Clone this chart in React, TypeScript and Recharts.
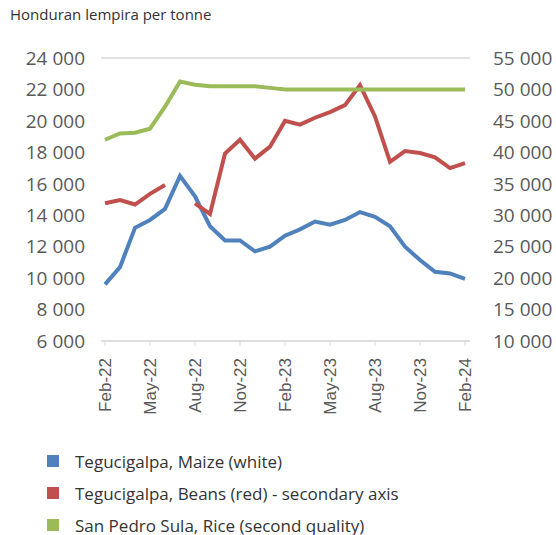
import { CartesianGrid, Line, LineChart, XAxis, YAxis } from 'recharts';
import type { ReactElement } from 'react';

const months = [
  'Feb-22', 'Mar-22', 'Apr-22', 'May-22', 'Jun-22', 'Jul-22', 'Aug-22', 'Sep-22', 'Oct-22',
  'Nov-22', 'Dec-22', 'Jan-23', 'Feb-23', 'Mar-23', 'Apr-23', 'May-23', 'Jun-23', 'Jul-23',
  'Aug-23', 'Sep-23', 'Oct-23', 'Nov-23', 'Dec-23', 'Jan-24', 'Feb-24',
];

const maize = [
  9600, 10700, 13200, 13700, 14400, 16500, 15200, 13300, 12400, 12400, 11700, 12000, 12700,
  13100, 13600, 13400, 13700, 14200, 13900, 13300, 12000, 11150, 10400, 10300, 9950,
];

const beans: (number | null)[] = [
  31900, 32400, 31700, 33400, 34800, null, 31900, 30200, 39800, 42000, 39000, 40900, 45000,
  44400, 45500, 46400, 47500, 50700, 45700, 38500, 40200, 39900, 39200, 37500, 38300,
];

const rice = [
  18800, 19200, 19250, 19500, 20900, 22500, 22300, 22200, 22200, 22200, 22200, 22100, 22000,
  22000, 22000, 22000, 22000, 22000, 22000, 22000, 22000, 22000, 22000, 22000, 22000,
];

const leftTicks = [6000, 8000, 10000, 12000, 14000, 16000, 18000, 20000, 22000, 24000];
const rightTicks = [10000, 15000, 20000, 25000, 30000, 35000, 40000, 45000, 50000, 55000];

const seriesNames = [
  'Tegucigalpa, Maize (white)',
  'Tegucigalpa, Beans (red) - secondary axis',
  'San Pedro Sula, Rice (second quality)',
];
const seriesColors = ['#4F81BD', '#C0504D', '#9BBB59'];

const data = months.map((m, i) => ({ month: m, maize: maize[i], beans: beans[i], rice: rice[i] }));

const fmt = (v: number) => String(v).replace(/\B(?=(\d{3})+(?!\d))/g, ' ');

const labelFont = "'Open Sans', sans-serif";

function MonthTick(props: any): ReactElement {
  const { x, y, payload } = props;
  return (
    <text
      x={x}
      y={y}
      transform={`rotate(-90, ${x}, ${y})`}
      textAnchor="end"
      dy="0.36em"
      fill="#595959"
      fontSize={17}
      fontFamily="'Liberation Sans', Arial, sans-serif"
    >
      {payload.value}
    </text>
  );
}

export default function App(): ReactElement {
  return (
    <div style={{ position: 'absolute', left: 0, top: 0, width: 556, height: 535, background: '#fff' }}>
      <div
        style={{
          position: 'absolute',
          left: 10,
          top: 4,
          fontFamily: labelFont,
          fontSize: 15,
          color: '#333',
        }}
      >
        Honduran lempira per tonne
      </div>
      <LineChart
        width={556}
        height={535}
        data={data}
        margin={{ top: 58, right: 0, left: 0, bottom: 0 }}
      >
        <CartesianGrid vertical={false} stroke="#d9d9d9" strokeWidth={1.5} />
        <XAxis
          dataKey="month"
          interval={2}
          padding={{ left: 4, right: 5 }}
          stroke="#d9d9d9"
          tickSize={5}
          tickMargin={12}
          tick={<MonthTick />}
          height={194}
        />
        <YAxis
          yAxisId="left"
          domain={[6000, 24000]}
          ticks={leftTicks}
          tickFormatter={fmt}
          width={101}
          axisLine={false}
          tickLine={false}
          tickSize={0}
          tickMargin={16}
          tick={{ fill: '#595959', fontSize: 19, fontFamily: labelFont }}
        />
        <YAxis
          yAxisId="right"
          orientation="right"
          domain={[10000, 55000]}
          ticks={rightTicks}
          tickFormatter={fmt}
          width={86}
          axisLine={false}
          tickLine={false}
          tickSize={0}
          tickMargin={23}
          tick={{ fill: '#595959', fontSize: 19, fontFamily: labelFont, textAnchor: 'start' }}
        />
        <Line
          yAxisId="left"
          dataKey="maize"
          name={seriesNames[0]}
          stroke={seriesColors[0]}
          strokeWidth={4}
          dot={false}
          isAnimationActive={false}
        />
        <Line
          yAxisId="right"
          dataKey="beans"
          name={seriesNames[1]}
          stroke={seriesColors[1]}
          strokeWidth={4}
          dot={false}
          isAnimationActive={false}
        />
        <Line
          yAxisId="left"
          dataKey="rice"
          name={seriesNames[2]}
          stroke={seriesColors[2]}
          strokeWidth={4}
          dot={false}
          isAnimationActive={false}
        />
      </LineChart>
      <div style={{ position: 'absolute', left: 47, top: 445, fontFamily: labelFont, fontSize: 17, color: '#333' }}>
        {seriesNames.map((name, i) => (
          <div key={name} style={{ display: 'flex', alignItems: 'center', height: 32 }}>
            <span style={{ width: 12, height: 12, background: seriesColors[i], marginRight: 16 }} />
            {name}
          </div>
        ))}
      </div>
    </div>
  );
}
